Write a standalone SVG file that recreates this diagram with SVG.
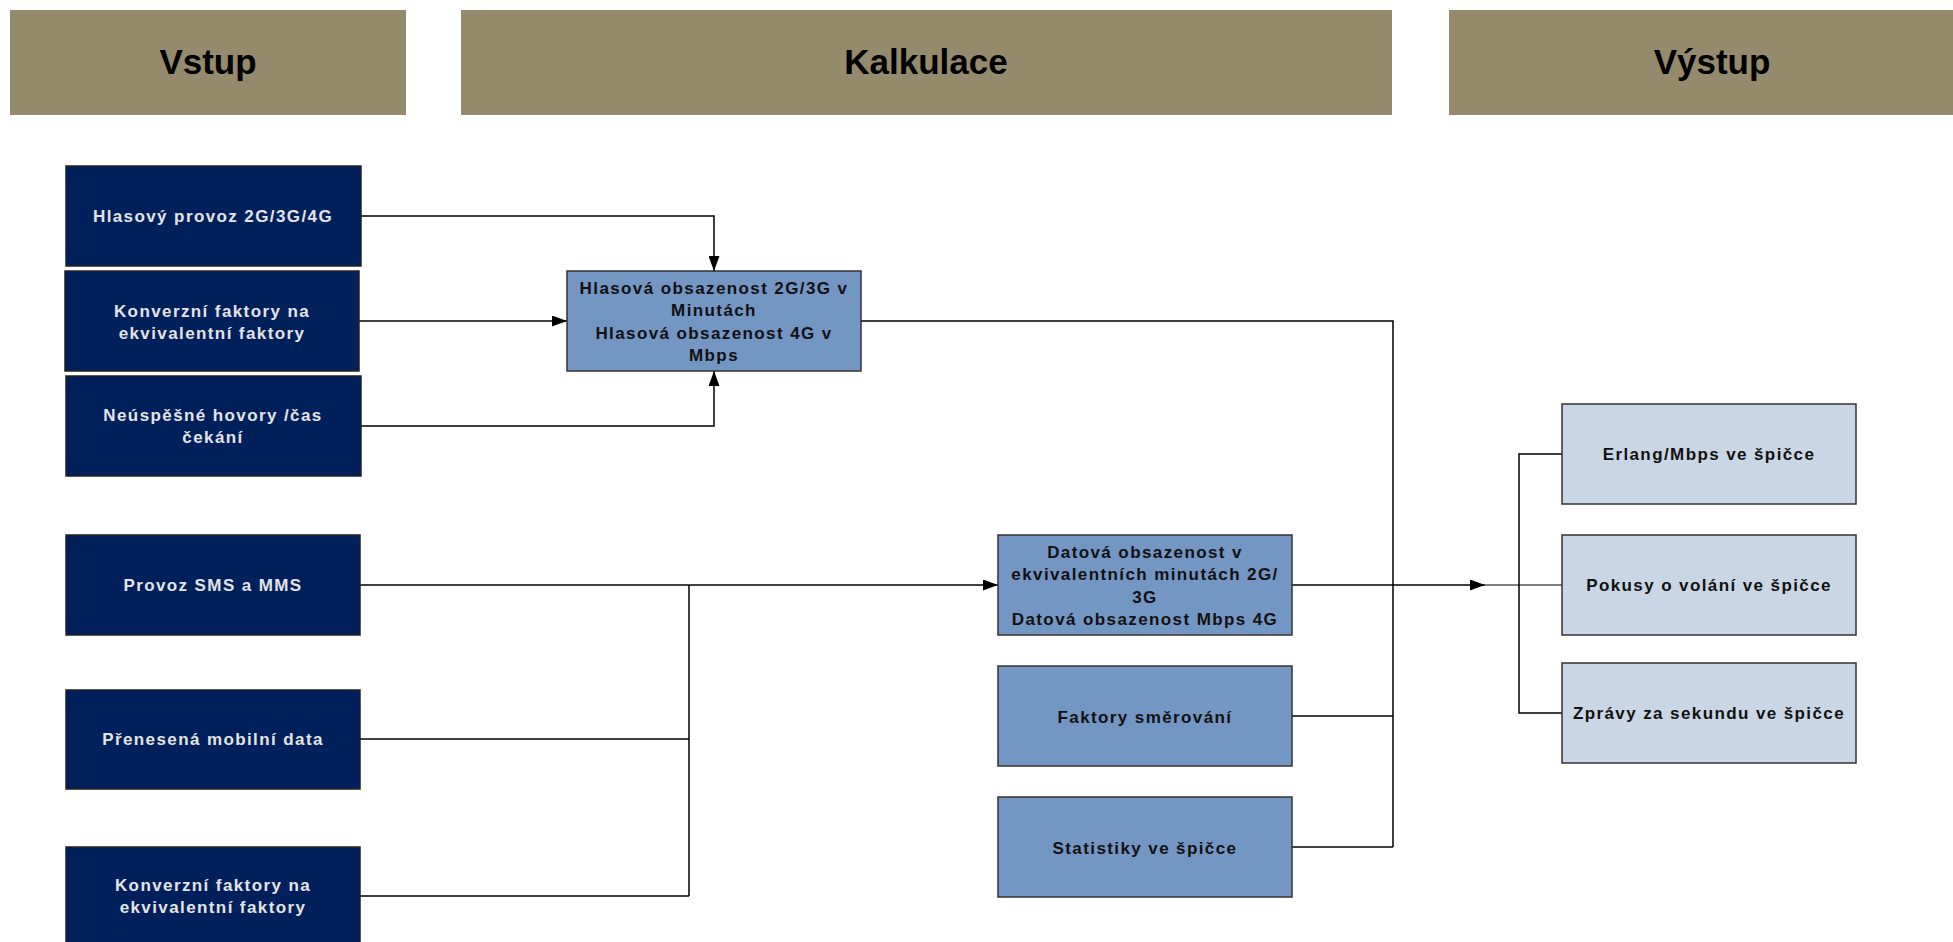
<svg xmlns="http://www.w3.org/2000/svg" width="1953" height="942" viewBox="0 0 1953 942">
<defs>
<style>
.hdr{fill:#968A6D}
.htxt{font-family:"Liberation Sans",Arial,sans-serif;font-weight:bold;font-size:35px;fill:#000;text-anchor:middle}
.in{fill:#00205C;stroke:#222;stroke-width:1.5}
.mid{fill:#7396C3;stroke:#333;stroke-width:1.5}
.out{fill:#C9D6E5;stroke:#333;stroke-width:1.5}
.t{font-family:"Liberation Sans",Arial,sans-serif;font-weight:bold;font-size:17px;letter-spacing:1.4px;text-anchor:middle}
.tw{fill:#E4E4E4}
.tb{fill:#111}
.c{fill:none;stroke:#000;stroke-width:1.5}
.cg{fill:none;stroke:#555;stroke-width:1.5}
</style>
<marker id="arr" viewBox="0 0 15 11" refX="15" refY="5.5" markerWidth="15" markerHeight="11" markerUnits="userSpaceOnUse" orient="auto">
<path d="M0,0 L15,5.5 L0,11 Z" fill="#000"/>
</marker>
</defs>

<g id="hdr-vstup"><rect class="hdr" x="10" y="10" width="396" height="105"/><text class="htxt" x="208" y="74">Vstup</text></g>
<g id="hdr-kalkulace"><rect class="hdr" x="461" y="10" width="931" height="105"/><text class="htxt" x="926" y="74">Kalkulace</text></g>
<g id="hdr-vystup"><rect class="hdr" x="1449" y="10" width="504" height="105"/><text class="htxt" x="1712" y="74">Výstup</text></g>

<g id="connectors">
<path class="c" d="M361,216 H714 V271" marker-end="url(#arr)"/>
<path class="c" d="M359,321 H567" marker-end="url(#arr)"/>
<path class="c" d="M361,426 H714 V371" marker-end="url(#arr)"/>
<path class="c" d="M861,321 H1393 V847"/>
<path class="c" d="M1292,716 H1393"/>
<path class="c" d="M1292,847 H1393"/>
<path class="c" d="M1292,585 H1485" marker-end="url(#arr)"/>
<path class="cg" d="M1485,585 H1562"/>
<path class="c" d="M1562,454 H1519 V713 H1562"/>
<path class="c" d="M360,585 H998" marker-end="url(#arr)"/>
<path class="c" d="M360,739 H689"/>
<path class="c" d="M360,896 H689"/>
<path class="c" d="M689,585 V896"/>
</g>

<g id="in1"><rect class="in" x="66" y="166" width="295" height="100"/><text class="t tw" x="213" y="222">Hlasový provoz 2G/3G/4G</text></g>
<g id="in2"><rect class="in" x="65" y="271" width="294" height="100"/><text class="t tw" x="212" y="317">Konverzní faktory na</text><text class="t tw" x="212" y="339">ekvivalentní faktory</text></g>
<g id="in3"><rect class="in" x="66" y="376" width="295" height="100"/><text class="t tw" x="213" y="421">Neúspěšné hovory /čas</text><text class="t tw" x="213" y="443">čekání</text></g>
<g id="in4"><rect class="in" x="66" y="535" width="294" height="100"/><text class="t tw" x="213" y="591">Provoz SMS a MMS</text></g>
<g id="in5"><rect class="in" x="66" y="690" width="294" height="99"/><text class="t tw" x="213" y="745">Přenesená mobilní data</text></g>
<g id="in6"><rect class="in" x="66" y="847" width="294" height="102"/><text class="t tw" x="213" y="891">Konverzní faktory na</text><text class="t tw" x="213" y="913">ekvivalentní faktory</text></g>

<g id="calc-voice"><rect class="mid" x="567" y="271" width="294" height="100"/>
<text class="t tb" x="714" y="294">Hlasová obsazenost 2G/3G v</text>
<text class="t tb" x="714" y="316">Minutách</text>
<text class="t tb" x="714" y="339">Hlasová obsazenost 4G v</text>
<text class="t tb" x="714" y="361">Mbps</text></g>
<g id="calc-data"><rect class="mid" x="998" y="535" width="294" height="100"/>
<text class="t tb" x="1145" y="558">Datová obsazenost v</text>
<text class="t tb" x="1145" y="580">ekvivalentních minutách 2G/</text>
<text class="t tb" x="1145" y="603">3G</text>
<text class="t tb" x="1145" y="625">Datová obsazenost Mbps 4G</text></g>
<g id="calc-routing"><rect class="mid" x="998" y="666" width="294" height="100"/><text class="t tb" x="1145" y="723">Faktory směrování</text></g>
<g id="calc-peak"><rect class="mid" x="998" y="797" width="294" height="100"/><text class="t tb" x="1145" y="854">Statistiky ve špičce</text></g>

<g id="out1"><rect class="out" x="1562" y="404" width="294" height="100"/><text class="t tb" x="1709" y="460">Erlang/Mbps ve špičce</text></g>
<g id="out2"><rect class="out" x="1562" y="535" width="294" height="100"/><text class="t tb" x="1709" y="591">Pokusy o volání ve špičce</text></g>
<g id="out3"><rect class="out" x="1562" y="663" width="294" height="100"/><text class="t tb" x="1709" y="719">Zprávy za sekundu ve špičce</text></g>
</svg>
